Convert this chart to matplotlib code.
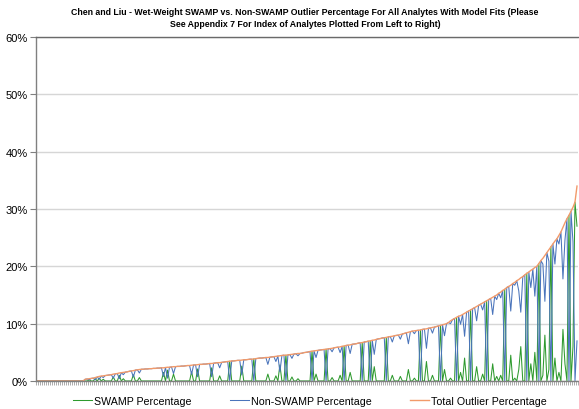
import numpy as np
import matplotlib.pyplot as plt
from matplotlib.ticker import MultipleLocator, PercentFormatter

# Outlier percentages per analyte, sorted by total (left to right)
total = [
    0, 0, 0, 0, 0, 0, 0, 0, 0, 0,
    0, 0, 0, 0, 0, 0, 0, 0, 0, 0,
    0, 0, 0, 0, 0.3, 0.35, 0.4, 0.45, 0.5, 0.6,
    0.7, 0.8, 0.85, 0.9, 0.95, 1.0, 1.05, 1.1, 1.2, 1.25,
    1.3, 1.4, 1.45, 1.5, 1.55, 1.6, 1.7, 1.75, 1.8, 1.9,
    1.95, 2.0, 2.05, 2.05, 2.1, 2.1, 2.15, 2.15, 2.2, 2.2,
    2.25, 2.25, 2.3, 2.3, 2.35, 2.4, 2.4, 2.45, 2.5, 2.5,
    2.55, 2.55, 2.6, 2.6, 2.65, 2.7, 2.7, 2.75, 2.8, 2.8,
    2.85, 2.9, 2.9, 2.95, 2.95, 3.0, 3.05, 3.05, 3.1, 3.15,
    3.2, 3.2, 3.25, 3.3, 3.35, 3.4, 3.45, 3.5, 3.5, 3.55,
    3.6, 3.6, 3.65, 3.7, 3.7, 3.75, 3.8, 3.8, 3.85, 3.9,
    3.95, 4.0, 4.0, 4.05, 4.1, 4.1, 4.15, 4.2, 4.25, 4.3,
    4.35, 4.4, 4.45, 4.5, 4.5, 4.55, 4.6, 4.65, 4.7, 4.75,
    4.8, 4.8, 4.85, 4.95, 5.0, 5.05, 5.15, 5.2, 5.25, 5.3,
    5.35, 5.4, 5.45, 5.5, 5.55, 5.6, 5.65, 5.7, 5.8, 5.85,
    5.9, 5.95, 6.05, 6.1, 6.2, 6.25, 6.3, 6.4, 6.45, 6.5,
    6.6, 6.65, 6.7, 6.8, 6.85, 6.95, 7.0, 7.1, 7.15, 7.25,
    7.35, 7.4, 7.5, 7.55, 7.6, 7.7, 7.75, 7.8, 7.9, 7.95,
    8.0, 8.1, 8.2, 8.3, 8.4, 8.5, 8.6, 8.7, 8.75, 8.8,
    8.85, 8.9, 9.0, 9.05, 9.1, 9.2, 9.25, 9.35, 9.4, 9.5,
    9.6, 9.7, 9.8, 9.9, 10.0, 10.2, 10.5, 10.7, 10.9, 11.1,
    11.3, 11.4, 11.6, 11.8, 12.0, 12.2, 12.4, 12.6, 12.8, 13.0,
    13.2, 13.4, 13.6, 13.8, 14.0, 14.2, 14.4, 14.6, 14.8, 15.0,
    15.3, 15.5, 15.8, 16.0, 16.3, 16.5, 16.7, 17.0, 17.2, 17.5,
    17.7, 18.0, 18.2, 18.5, 18.8, 19.0, 19.3, 19.5, 19.8, 20.0,
    20.5, 21.0, 21.4, 21.9, 22.4, 22.9, 23.4, 23.9, 24.4, 24.8,
    25.4, 26.0, 26.8, 27.6, 28.3, 28.9, 29.6, 30.3, 31.2, 34.0,
]

swamp = [
    0, 0, 0, 0, 0, 0, 0, 0, 0, 0,
    0, 0, 0, 0, 0, 0, 0, 0, 0, 0,
    0, 0, 0, 0, 0, 0, 0.2, 0, 0, 0.4,
    0, 0.5, 0, 0.3, 0, 0, 0, 0, 0.7, 0,
    0, 1.0, 0, 0.4, 0, 0, 0, 0, 1.1, 0,
    0, 0.6, 0, 0, 0, 0, 0, 0, 0, 0,
    0, 0, 0, 1.5, 0, 1.9, 0, 0, 1.2, 0,
    0, 0, 0, 0, 0, 0, 0, 1.6, 0, 0,
    2.1, 0, 0, 0, 0, 0, 0, 2.3, 0, 0,
    0, 0.9, 0, 0, 0, 0, 3.45, 0, 0, 0,
    0, 0, 2.6, 0, 0, 0, 0, 0, 3.85, 0,
    0, 0, 0, 0, 0, 1.2, 0, 0, 0, 0.9,
    0, 2.8, 0, 0, 4.5, 0, 0, 0.7, 0, 0,
    0.4, 0, 0, 0, 0, 0, 0, 5.2, 0, 1.2,
    0, 0, 0, 0, 5.55, 0, 0, 0.6, 0, 0,
    0, 1.0, 0, 6.1, 0, 0, 1.5, 0, 0, 0,
    0, 0, 6.7, 0, 0, 0, 7.0, 0, 2.5, 0,
    0, 0, 0, 0, 7.6, 0, 0, 1.0, 0, 0,
    0, 0.8, 0, 0, 0, 2.0, 0, 0, 0.5, 0,
    0, 8.9, 0, 0, 3.4, 0, 0, 1.0, 0, 0,
    0, 9.7, 0, 2.0, 0, 0, 0.5, 0, 0, 11.1,
    0, 1.5, 0, 4.0, 0, 0, 12.4, 0, 0, 2.5,
    0, 0, 1.2, 0, 14.0, 0, 0, 3.0, 0, 0.8,
    0, 1.0, 0, 16.0, 0, 0, 4.5, 0, 0.5, 0,
    2.0, 6.0, 0, 0, 18.8, 0, 3.0, 0, 5.0, 0,
    20.5, 0, 1.0, 8.0, 0, 2.0, 23.4, 0, 4.0, 0,
    1.5, 0, 9.0, 3.0, 0, 28.9, 0, 6.0, 31.2, 27.0,
]

non_swamp = [
    0, 0, 0, 0, 0, 0, 0, 0, 0, 0,
    0, 0, 0, 0, 0, 0, 0, 0, 0, 0,
    0, 0, 0, 0, 0.3, 0.35, 0.2, 0.45, 0.5, 0.2,
    0.7, 0.3, 0.85, 0.6, 0.95, 1.0, 1.05, 1.1, 0.5, 1.25,
    1.3, 0.4, 1.45, 1.1, 1.55, 1.6, 1.7, 1.75, 0.7, 1.9,
    1.95, 1.4, 2.05, 2.05, 2.1, 2.1, 2.15, 2.15, 2.2, 2.2,
    2.25, 2.25, 2.3, 0.8, 2.35, 0.5, 2.4, 2.45, 1.3, 2.5,
    2.55, 2.55, 2.6, 2.6, 2.65, 2.7, 2.7, 1.15, 2.8, 2.8,
    0.75, 2.9, 2.9, 2.95, 2.95, 3.0, 3.05, 0.75, 3.1, 3.15,
    3.2, 2.3, 3.25, 3.3, 3.35, 3.4, 0, 3.5, 3.5, 3.55,
    3.6, 3.6, 1.05, 3.7, 3.7, 3.75, 3.8, 3.8, 0, 3.9,
    3.95, 4.0, 4.0, 4.05, 4.1, 2.9, 4.15, 4.2, 4.25, 3.4,
    4.35, 1.6, 4.45, 4.5, 0, 4.55, 4.6, 3.95, 4.7, 4.75,
    4.4, 4.8, 4.85, 4.95, 5.0, 5.05, 5.15, 0, 5.25, 4.1,
    5.35, 5.4, 5.45, 5.5, 0, 5.6, 5.65, 5.1, 5.8, 5.85,
    5.9, 4.95, 6.05, 0, 6.2, 6.25, 4.8, 6.4, 6.45, 6.5,
    6.6, 6.65, 0, 6.8, 6.85, 6.95, 0, 7.1, 4.65, 7.25,
    7.35, 7.4, 7.5, 7.55, 0, 7.7, 7.75, 6.8, 7.9, 7.95,
    8.0, 7.3, 8.2, 8.3, 8.4, 6.5, 8.6, 8.7, 8.25, 8.8,
    8.85, 0, 9.0, 9.05, 5.7, 9.2, 9.25, 8.35, 9.4, 9.5,
    9.6, 0, 9.8, 7.9, 10.0, 10.2, 10.0, 10.7, 10.9, 0,
    11.3, 9.9, 11.6, 7.8, 12.0, 12.2, 0, 12.6, 12.8, 10.5,
    13.2, 13.4, 12.4, 13.8, 0, 14.2, 14.4, 11.6, 14.8, 14.2,
    15.3, 14.5, 15.8, 0, 16.3, 16.5, 12.2, 17.0, 16.7, 17.5,
    15.7, 12.0, 18.2, 18.5, 0, 19.0, 16.3, 19.5, 14.8, 20.0,
    0, 21.0, 20.4, 13.9, 22.4, 20.9, 0, 23.9, 20.4, 24.8,
    23.9, 26.0, 17.8, 24.6, 28.3, 0, 29.6, 24.3, 0, 7.0,
]

title = ("Chen and Liu - Wet-Weight SWAMP vs. Non-SWAMP Outlier Percentage For All Analytes With Model Fits (Please\n"
         "See Appendix 7 For Index of Analytes Plotted From Left to Right)")

plt.rcParams['font.family'] = ['Liberation Sans', 'DejaVu Sans']

fig = plt.figure(figsize=(5.79, 4.10), dpi=100)
ax = fig.add_axes([36 / 579, 28 / 410, 542 / 579, 344 / 410])

x = np.arange(len(total))
ax.plot(x, swamp, color="#2e9a2e", lw=0.75, label="SWAMP Percentage")
ax.plot(x, non_swamp, color="#4a74bb", lw=0.75, label="Non-SWAMP Percentage")
ax.plot(x, total, color="#f29a6a", lw=1.0, label="Total Outlier Percentage")

ax.set_xlim(-0.5, len(total) - 0.5)
ax.set_ylim(0, 60)
ax.yaxis.set_major_locator(MultipleLocator(10))
ax.yaxis.set_major_formatter(PercentFormatter(decimals=0))
ax.grid(axis="y", color="#d6d6d6", lw=1.0)
ax.set_axisbelow(True)

# dense category ticks along the bottom axis
ax.set_xticks(np.arange(-0.5, len(total), 1))
ax.tick_params(axis="x", length=3, width=0.5, color="#8a8a8a", labelbottom=False)
ax.tick_params(axis="y", length=4, width=0.8, color="#808080", labelsize=8, pad=2)

for side in ["left", "bottom", "top"]:
    ax.spines[side].set_color("#808080")
    ax.spines[side].set_linewidth(1.0)
ax.spines["top"].set_color("#6a6a6a")
ax.spines["right"].set_visible(False)

fig.text(0.527, 0.955, title, ha="center", va="center", fontsize=6.3,
         fontweight="bold", linespacing=1.45)

fig.legend(loc="center", bbox_to_anchor=(0.535, 0.0195), ncol=3, frameon=False,
           fontsize=7.7, handlelength=1.8, handletextpad=0.15, columnspacing=3.6)

plt.savefig("out.png", dpi=100)
